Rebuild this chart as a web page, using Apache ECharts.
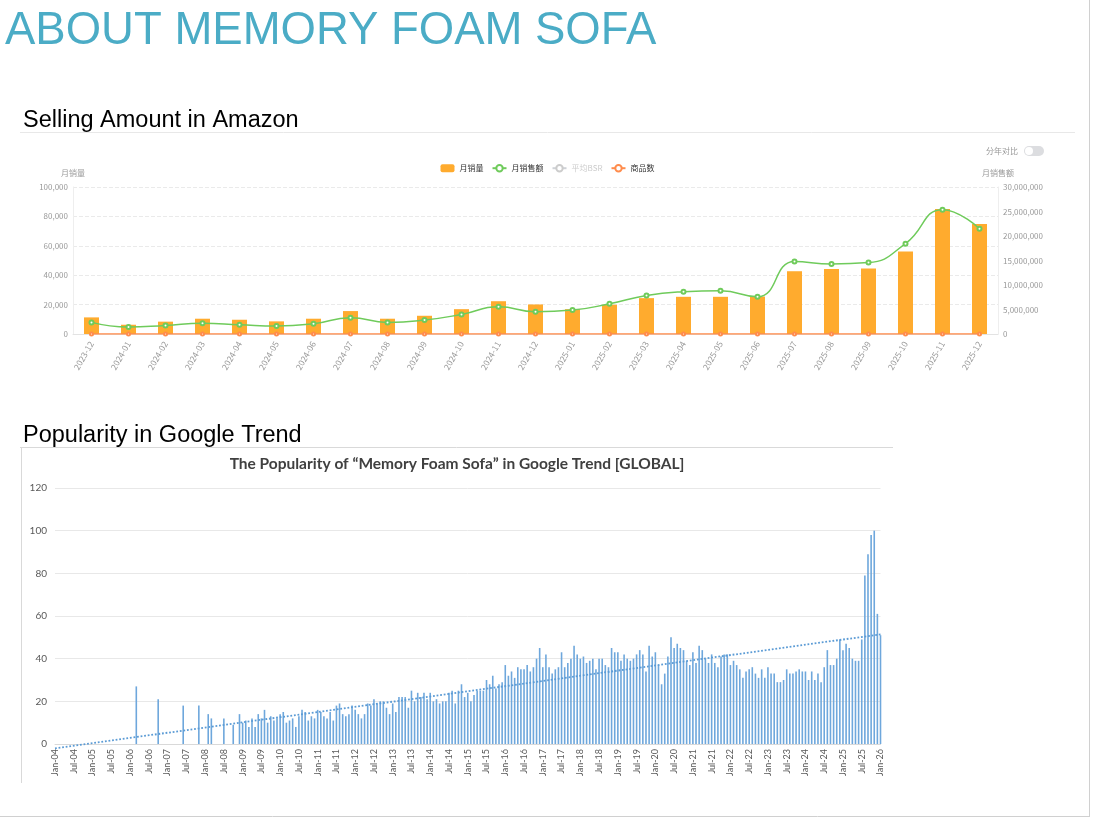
<!DOCTYPE html>
<html>
<head>
<meta charset="utf-8">
<script src="https://cdn.jsdelivr.net/npm/echarts@6/dist/echarts.min.js"></script>
<style>
  html, body { margin: 0; padding: 0; background: #fff; }
  #main { width: 1095px; height: 823px; }
</style>
</head>
<body>
<div id="main"></div>
<script>
// Amazon monthly data
var amazonMonths = ['2023-12', '2024-01', '2024-02', '2024-03', '2024-04', '2024-05', '2024-06',
  '2024-07', '2024-08', '2024-09', '2024-10', '2024-11', '2024-12', '2025-01', '2025-02',
  '2025-03', '2025-04', '2025-05', '2025-06', '2025-07', '2025-08', '2025-09', '2025-10',
  '2025-11', '2025-12'];
var monthlyUnits = [11300, 6300, 8400, 10400, 9700, 8600, 10400, 15600, 10400, 12400, 16900,
  22300, 20100, 16900, 19900, 24400, 25300, 25300, 25500, 42700, 44200, 44500, 56200, 85100, 74900];
var monthlyRevenue = [2370000, 1420000, 1760000, 2170000, 1900000, 1630000, 2100000, 3320000,
  2370000, 2840000, 4000000, 5550000, 4540000, 4880000, 6170000, 7860000, 8610000, 8810000,
  7590000, 14780000, 14300000, 14580000, 18440000, 25360000, 21490000];
var productCount = [0, 0, 0, 0, 0, 0, 0, 0, 0, 0, 0, 0, 0, 0, 0, 0, 0, 0, 0, 0, 0, 0, 0, 0, 0];
var avgBsr = [];

// Google trend, monthly Jan-04 .. Jan-26
var popularity = [
  0, 0, 0, 0, 0, 0, 0, 0, 0, 0, 0, 0,          // 2004
  0, 0, 0, 0, 0, 0, 0, 0, 0, 0, 0, 0,          // 2005
  0, 0, 27, 0, 0, 0, 0, 0, 0, 21, 0, 0,        // 2006
  0, 0, 0, 0, 0, 18, 0, 0, 0, 0, 18, 0,        // 2007
  0, 14, 12, 0, 0, 0, 12, 0, 0, 9, 0, 14,      // 2008
  10, 11, 8, 12, 8, 14, 12, 16, 10, 13, 11, 12,   // 2009
  14, 15, 10, 11, 12, 8, 13, 16, 15, 11, 13, 12,  // 2010
  16, 15, 13, 12, 15, 11, 18, 19, 14, 13, 14, 18, // 2011
  16, 14, 12, 14, 19, 18, 21, 19, 20, 20, 17, 14, // 2012
  19, 15, 22, 22, 22, 17, 25, 20, 24, 22, 24, 21, // 2013
  24, 20, 21, 19, 20, 20, 24, 25, 19, 25, 28, 22, // 2014
  24, 20, 23, 25, 25, 25, 30, 28, 32, 26, 28, 29, // 2015
  37, 32, 34, 31, 36, 35, 35, 37, 34, 36, 40, 45, // 2016
  36, 42, 36, 33, 35, 36, 43, 36, 38, 40, 46, 42, // 2017
  40, 41, 38, 39, 40, 35, 40, 40, 37, 36, 45, 43, // 2018
  43, 39, 42, 40, 39, 40, 42, 44, 42, 34, 46, 41, // 2019
  43, 37, 28, 33, 41, 50, 45, 47, 45, 44, 39, 37, // 2020
  43, 38, 46, 44, 40, 38, 42, 38, 36, 41, 42, 42, // 2021
  37, 39, 37, 35, 31, 34, 35, 36, 33, 31, 35, 31, // 2022
  36, 33, 33, 29, 29, 30, 35, 33, 33, 34, 35, 34, // 2023
  34, 30, 34, 30, 33, 29, 36, 44, 37, 37, 40, 49, // 2024
  44, 47, 45, 40, 39, 39, 49, 79, 89, 98, 100, 61, // 2025
  51                                              // 2026
];
var trendStart = -2;
var trendEnd = 51.4;
var popularityTicks = [0, 20, 40, 60, 80, 100, 120];

var monthNames = ['Jan', 'Feb', 'Mar', 'Apr', 'May', 'Jun', 'Jul', 'Aug', 'Sep', 'Oct', 'Nov', 'Dec'];
var trendMonths = [];
for (var i = 0; i < popularity.length; i++) {
  var yr = 4 + Math.floor(i / 12);
  trendMonths.push(monthNames[i % 12] + '-' + (yr < 10 ? '0' + yr : yr));
}

var chart = echarts.init(document.getElementById('main'));
var cjk = '"Noto Sans CJK SC", "Noto Sans", sans-serif';
var fmt = function (v) { return v.toLocaleString('en-US'); };

var option = {
  animation: false,
  textStyle: { fontFamily: cjk },
  graphic: [
    { type: 'text', x: 5, y: 31, style: { text: 'ABOUT MEMORY FOAM SOFA', fontSize: 45.5, fontFamily: '"Liberation Sans", Arial', fill: '#4bacc6', verticalAlign: 'middle' } },
    { type: 'text', x: 23, y: 121, style: { text: 'Selling Amount in Amazon', fontSize: 23.5, fontFamily: '"Liberation Sans", Arial', fill: '#000', verticalAlign: 'middle' } },
    { type: 'line', shape: { x1: 20, y1: 132.5, x2: 1075, y2: 132.5 }, style: { stroke: '#e8e8e8', lineWidth: 1 } },
    { type: 'text', x: 23, y: 436, style: { text: 'Popularity in Google Trend', fontSize: 23.5, fontFamily: '"Liberation Sans", Arial', fill: '#000', verticalAlign: 'middle' } },
    { type: 'line', shape: { x1: 20, y1: 447.5, x2: 893, y2: 447.5 }, style: { stroke: '#d9d9d9', lineWidth: 1 } },
    { type: 'line', shape: { x1: 21.5, y1: 447, x2: 21.5, y2: 783 }, style: { stroke: '#d9d9d9', lineWidth: 1 } },
    { type: 'text', x: 457, y: 464, style: { text: 'The Popularity of \u201cMemory Foam Sofa\u201d in Google Trend [GLOBAL]', fontSize: 15.5, fontWeight: 'bold', fontFamily: 'Lato, "Open Sans", sans-serif', fill: '#404040', align: 'center', verticalAlign: 'middle' } },
    { type: 'text', x: 1018, y: 151, style: { text: '分年对比', fontSize: 8, fontFamily: cjk, fill: '#999', align: 'right', verticalAlign: 'middle' } },
    { type: 'rect', shape: { x: 1024, y: 146, width: 20, height: 10, r: 5 }, style: { fill: '#dcdde0' } },
    { type: 'circle', shape: { cx: 1029, cy: 151, r: 4 }, style: { fill: '#fff' } },
    { type: 'line', shape: { x1: 1089.5, y1: 0, x2: 1089.5, y2: 816 }, style: { stroke: '#d0d0d0', lineWidth: 1 } },
    { type: 'line', shape: { x1: 0, y1: 816.5, x2: 1090, y2: 816.5 }, style: { stroke: '#d0d0d0', lineWidth: 1 } }
  ],
  legend: {
    top: 159,
    left: 'center',
    itemWidth: 14,
    itemHeight: 8,
    itemGap: 8,
    textStyle: { fontSize: 8, color: '#333', fontFamily: cjk },
    inactiveColor: '#ccc',
    data: [
      { name: '月销量', icon: 'roundRect' },
      '月销售额', '平均BSR', '商品数'
    ],
    selected: { '平均BSR': false }
  },
  grid: [
    { left: 73, right: 97, top: 187, height: 147 },
    { left: 55, right: 214.5, top: 488, height: 256 }
  ],
  xAxis: [
    {
      type: 'category', gridIndex: 0, data: amazonMonths,
      axisLine: { lineStyle: { color: '#e3e3e3' } },
      axisTick: { lineStyle: { color: '#e3e3e3' } },
      axisLabel: { rotate: 60, fontSize: 8.5, color: '#999', margin: 8 }
    },
    {
      type: 'category', gridIndex: 1, data: trendMonths, boundaryGap: false,
      axisLine: { lineStyle: { color: '#d9d9d9' } },
      axisTick: { show: false },
      axisLabel: { interval: 5, rotate: 90, fontSize: 9, color: '#595959', fontFamily: 'Lato, sans-serif', margin: 5 }
    }
  ],
  yAxis: [
    {
      type: 'value', gridIndex: 0, name: '月销量', min: 0, max: 100000, interval: 20000,
      nameTextStyle: { fontSize: 8, color: '#999' }, nameGap: 10,
      axisLine: { show: true, lineStyle: { color: '#eeeeee' } },
      axisLabel: { fontSize: 8, color: '#999', formatter: fmt, margin: 5 },
      splitLine: { lineStyle: { type: 'dashed', color: '#eaeaea' } }
    },
    {
      type: 'value', gridIndex: 0, name: '月销售额', position: 'right', min: 0, max: 30000000, interval: 5000000,
      nameTextStyle: { fontSize: 8, color: '#999' }, nameGap: 10,
      axisLine: { show: true, lineStyle: { color: '#eeeeee' } },
      axisLabel: { fontSize: 8, color: '#999', formatter: fmt, margin: 5 },
      splitLine: { show: false }
    },
    {
      type: 'value', gridIndex: 1, min: popularityTicks[0], max: popularityTicks[popularityTicks.length - 1], interval: 20,
      axisLine: { show: false },
      axisTick: { show: false },
      axisLabel: { fontSize: 10, color: '#595959', fontFamily: 'Lato, sans-serif', margin: 8 },
      splitLine: { lineStyle: { color: '#e8e8e8' } }
    }
  ],
  series: [
    {
      name: '月销量', type: 'bar', xAxisIndex: 0, yAxisIndex: 0,
      data: monthlyUnits, barWidth: 15,
      itemStyle: { color: '#ffab2e' }
    },
    {
      name: '月销售额', type: 'line', xAxisIndex: 0, yAxisIndex: 1,
      data: monthlyRevenue, smooth: true, symbol: 'emptyCircle', symbolSize: 4,
      itemStyle: { color: '#6fcb5b' }, lineStyle: { width: 1.5 }
    },
    {
      name: '平均BSR', type: 'line', xAxisIndex: 0, yAxisIndex: 1,
      data: avgBsr, symbol: 'emptyCircle', itemStyle: { color: '#bbbbbb' }
    },
    {
      name: '商品数', type: 'line', xAxisIndex: 0, yAxisIndex: 0,
      data: productCount, symbol: 'emptyCircle', symbolSize: 3,
      itemStyle: { color: '#ff8c4c' }, lineStyle: { width: 1.5 }
    },
    {
      name: 'popularity', type: 'bar', xAxisIndex: 1, yAxisIndex: 2,
      data: popularity, barWidth: 1.6,
      itemStyle: { color: '#6ea7dc' }
    },
    {
      name: 'trend', type: 'line', xAxisIndex: 1, yAxisIndex: 2,
      data: [[trendMonths[0], trendStart], [trendMonths[trendMonths.length - 1], trendEnd]],
      symbol: 'none', clip: false,
      lineStyle: { color: '#5b9bd5', width: 1.8, type: 'dotted' }
    }
  ]
};

chart.setOption(option);
</script>
</body>
</html>
